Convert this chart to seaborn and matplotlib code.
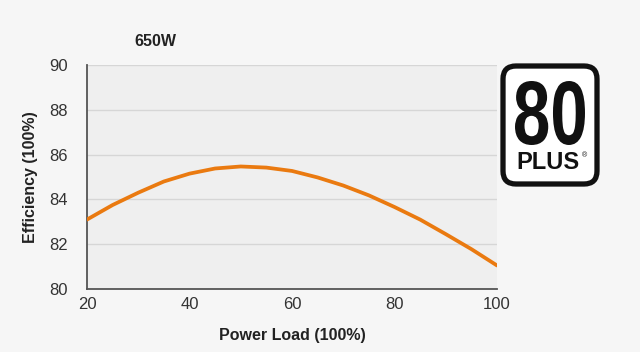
import numpy as np
import pandas as pd
import matplotlib.pyplot as plt
from matplotlib.patches import FancyBboxPatch, PathPatch
from matplotlib.textpath import TextPath
from matplotlib.font_manager import FontProperties
from matplotlib.transforms import Affine2D
import seaborn as sns

# efficiency curve
load = [20, 25, 30, 35, 40, 45, 50, 55, 60, 65, 70, 75, 80, 85, 90, 95, 100]
efficiency = [83.1, 83.75, 84.3, 84.8, 85.15, 85.38, 85.47, 85.42, 85.27,
              84.98, 84.62, 84.18, 83.66, 83.1, 82.45, 81.78, 81.05]
x_ticks = [20, 40, 60, 80, 100]
y_ticks = [80, 82, 84, 86, 88, 90]
title = "650W"

df = pd.DataFrame({"load": load, "efficiency": efficiency})

sns.set_style("white")
plt.rcParams['font.family'] = ['Liberation Sans', 'DejaVu Sans']

W, H = 640, 352
fig = plt.figure(figsize=(W / 100, H / 100), dpi=100, facecolor="#f6f6f6")
ax = fig.add_axes([87 / W, 1 - 289 / H, 410 / W, 224 / H])
ax.set_facecolor("#efefef")

sns.lineplot(data=df, x="load", y="efficiency", ax=ax, color="#ea7a10",
             linewidth=2.7, zorder=3)

ax.set_xlim(20, 100)
ax.set_ylim(80, 90)
ax.set_xticks(x_ticks)
ax.set_yticks(y_ticks)
for y in y_ticks[1:]:
    ax.axhline(y, color="#d6d6d6", linewidth=1.0, zorder=1)

for s in ["top", "right"]:
    ax.spines[s].set_visible(False)
for s in ["left", "bottom"]:
    ax.spines[s].set_color("#555555")
    ax.spines[s].set_linewidth(1.3)
ax.tick_params(axis="both", direction="in", length=8, width=1.3,
               color="#555555", labelsize=12, labelcolor="#333333")
ax.tick_params(axis="y", pad=14)
ax.tick_params(axis="x", pad=6)

ax.set_xlabel("Power Load (100%)", fontsize=11.5, fontweight="bold",
              color="#222222", labelpad=11)
ax.set_ylabel("Efficiency (100%)", fontsize=11.5, fontweight="bold",
              color="#222222", labelpad=8)
fig.text(155 / W, 1 - 42 / H, title, fontsize=11.5, fontweight="bold",
         color="#222222", ha="center", va="center")

# 80 PLUS logo, drawn in pixel units
lax = fig.add_axes([498 / W, 1 - 189 / H, 104 / W, 128 / H])
lax.set_xlim(0, 104)
lax.set_ylim(0, 128)
lax.axis("off")
lax.add_patch(FancyBboxPatch((5, 5), 94, 118,
                             boxstyle="round,pad=0,rounding_size=13",
                             facecolor="white", edgecolor="#111111",
                             linewidth=3.8))

# narrow "80": text path squeezed horizontally
tp = TextPath((0, 0), "80", size=90,
              prop=FontProperties(family="Liberation Sans", weight="bold"))
bb = tp.get_extents()
sx = 70 / bb.width
sy = 64 / bb.height
tr = (Affine2D().translate(-(bb.x0 + bb.width / 2), -(bb.y0 + bb.height / 2))
      .scale(sx, sy).translate(52, 76))
lax.add_patch(PathPatch(tr.transform_path(tp), facecolor="#111111",
                        edgecolor="none"))
lax.text(50, 27, "PLUS", fontsize=17, fontweight="bold", color="#111111",
         ha="center", va="center")
lax.text(86, 33, "®", fontsize=5, color="#111111", ha="center", va="center")

fig.savefig("out.png", dpi=100, facecolor=fig.get_facecolor())
